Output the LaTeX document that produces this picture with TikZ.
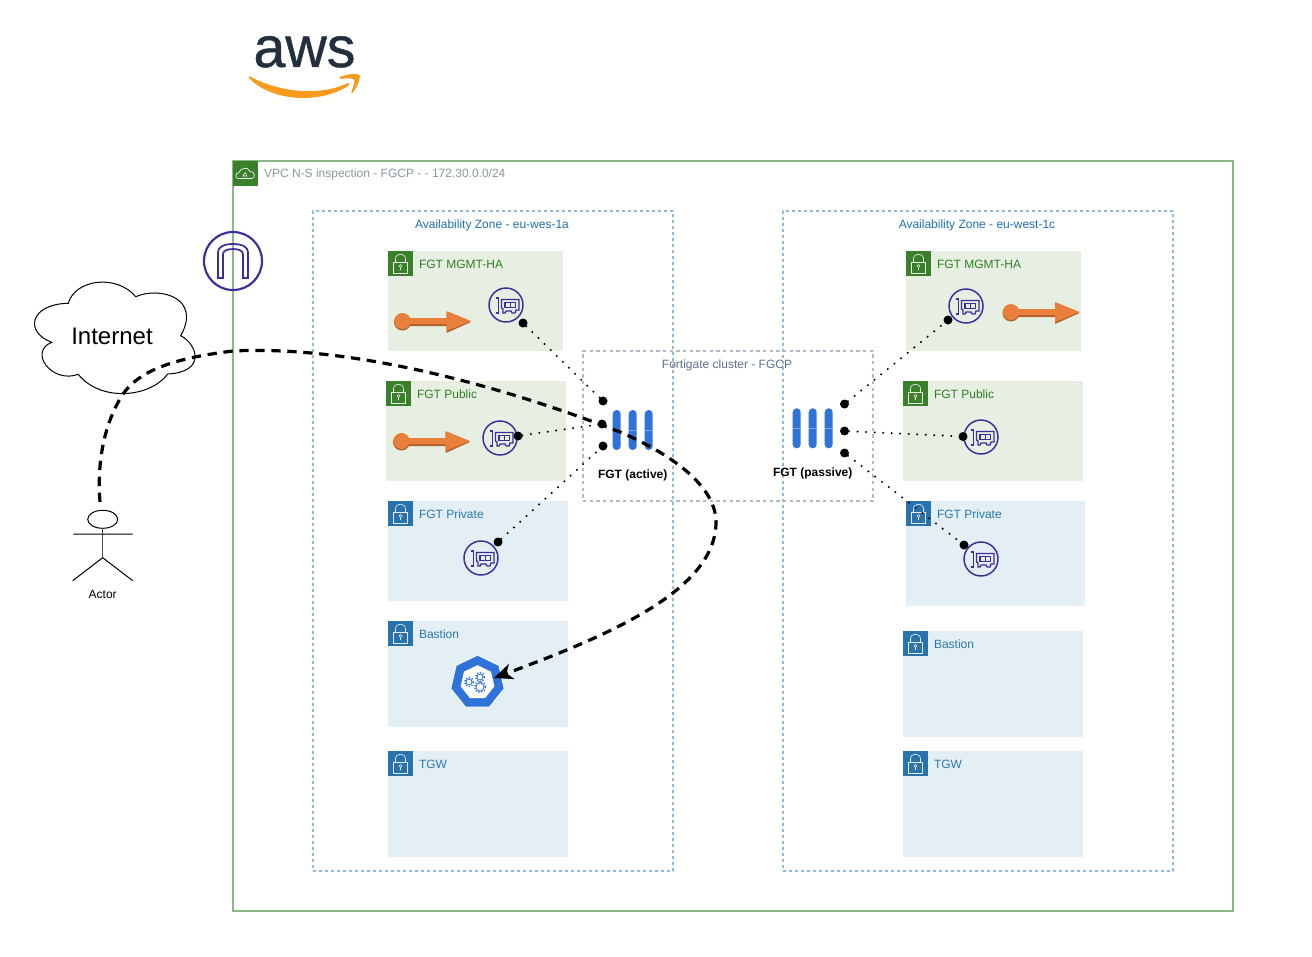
\documentclass[tikz,border=0pt]{standalone}
\usepackage{fontspec}
\setmainfont{Liberation Sans}
\newfontfamily\awsfont[FakeBold=0.8]{Liberation Sans}
\usetikzlibrary{arrows.meta,shapes.geometric}
\definecolor{vpcgreen}{HTML}{8FB58B}
\definecolor{icongreen}{HTML}{3A7F2A}
\definecolor{iconblue}{HTML}{2873AE}
\definecolor{subgreen}{HTML}{E7EFE3}
\definecolor{subblue}{HTML}{E3EEF5}
\definecolor{txtgreen}{HTML}{2E8020}
\definecolor{txtblue}{HTML}{2B78B0}
\definecolor{aztext}{HTML}{1F6FAE}
\definecolor{azline}{HTML}{94BAD9}
\definecolor{clusterline}{HTML}{B0BAC9}
\definecolor{purp}{HTML}{3C2D9B}
\definecolor{fgtblue}{HTML}{2F72D8}
\definecolor{orangeA}{HTML}{E87F3B}
\definecolor{orangeB}{HTML}{B4622B}
\definecolor{awsdark}{HTML}{232F3E}
\definecolor{awsorange}{HTML}{F79A1E}
\definecolor{vpctext}{HTML}{8A979C}
\definecolor{clustertext}{HTML}{5F728C}
\tikzset{
  x=0.75pt,y=-0.75pt,
  every node/.style={font=\fontsize{9}{11}\selectfont,inner sep=0pt,outer sep=0pt},
  subnetbase/.style={anchor=north west,draw=none},
  sublabel/.style={anchor=west},
  iconsq/.style={anchor=north west,minimum width=18.75pt,minimum height=18.75pt},
  portdot/.style={circle,fill=black,minimum size=6.75pt},
  dotlink/.style={line width=1.7pt,line cap=round,dash pattern=on 0pt off 6.4pt},
  dashlink/.style={line width=2.4pt,dash pattern=on 7pt off 5pt},
  azbox/.style={anchor=north west,draw=azline,line width=1.5pt,dash pattern=on 2.2pt off 2.3pt},
  pics/lockicon/.style={code={
    \draw[white!85!gray,line width=0.5pt,fill=none] (5.5,11.5) rectangle (19.5,22);
    \draw[white!85!gray,line width=0.5pt] (7.5,11.5) -- (7.5,8) .. controls (7.5,1.5) and (17.5,1.5) .. (17.5,8) -- (17.5,11.5);
    \draw[white!85!gray,line width=0.4pt] (12.5,15) circle (1.4) (12.5,16.4) -- (12.5,19);
  }},
  pics/eni/.style={code={
    \draw[purp,line width=1.1pt] (0,0) circle (17);
    \draw[purp,line width=1pt] (-10,-7) -- (-7.5,-7) -- (-7.5,8) -- (-10,8);
    \draw[purp,line width=1pt] (-4.5,-5.5) -- (13,-5.5) -- (13,5) -- (10,5) -- (9,8) -- (6,8) -- (5,6) -- (0,6) -- (-1,8) -- (-3,8) -- (-3,4) -- (-4.5,3) -- cycle;
    \draw[purp,line width=1pt] (-1,-2.5) rectangle (9.5,2.5) (4.2,-2.5) -- (4.2,2.5);
  }},
  pics/orangearrow/.style={code={
    \fill[orangeB] (0,1) circle (8.5);
    \fill[orangeB] (0,-2) -- (44,-2) -- (44,-9) -- (68.5,1) -- (44,12) -- (44,5) -- (0,5) -- cycle;
    \fill[orangeA] (0,0) circle (8);
    \fill[orangeA] (0,-3) -- (44,-3) -- (44,-10) -- (68.5,0) -- (44,10) -- (44,3) -- (0,3) -- cycle;
  }},
  pics/fgtbars/.style={code={
    \foreach \q in {-16,0,16}{
      \fill[fgtblue,rounded corners=2.9pt] (\q-4,-20) rectangle (\q+4,20);
      \draw[white!35!fgtblue,line width=0.25pt] (\q-4,0) -- (\q+4,0);
    }
  }},
}
\newcommand{\subnetbox}[8]{% name x y w h fill iconcolor textcolor
  \node[subnetbase,fill=#6,minimum width=#4*0.75pt,minimum height=#5*0.75pt] (#1) at (#2,#3) {};
  \node[iconsq,fill=#7] (#1icon) at (#2,#3) {};
  \pic at (#2,#3) {lockicon};
  \node[sublabel,text=#8] (#1label) at ([xshift=23.25pt,yshift=-9.7pt]#1.north west) {\SUBTXT};
}
\begin{document}
\begin{tikzpicture}
\useasboundingbox (0,0) rectangle (1312,956);
% AWS logo
\node[text=awsdark,font=\fontsize{43}{43}\awsfont,anchor=base] (awslogo) at (304.5,67) {aws};
\fill[awsorange] (249,76) .. controls (280,93) and (320,96) .. (347,83.5) .. controls (349,82) and (351,84) .. (348,86) .. controls (320,104) and (272,102) .. (249,78) -- cycle;
\fill[awsorange] (340,77) .. controls (347,74) and (356,73) .. (359.5,75) .. controls (361,78) and (356,90) .. (352,93) .. controls (351,93) and (351,92) .. (352,90) .. controls (354,85) and (355,81) .. (354,79.5) .. controls (352,78) and (346,78) .. (341,79) .. controls (339.5,79) and (339.5,78) .. (340,77) -- cycle;
% VPC
\node[anchor=north west,draw=vpcgreen,line width=1.5pt,minimum width=750pt,minimum height=562.5pt] (vpc) at (233,161) {};
\node[iconsq,fill=icongreen] (vpcicon) at (233,161) {};
\draw[white,line width=0.5pt] (238,178.5) .. controls (235,178) and (235,173) .. (239,172.5) .. controls (240,168) and (248,166) .. (250,171.5) .. controls (255,171) and (256,178) .. (252,178.5) -- cycle;
\draw[white,line width=0.4pt] (243,176) -- (247,176) -- (245,172.5) -- cycle;
\node[anchor=west,text=vpctext] (vpclabel) at (264,174.5) {VPC N-S inspection - FGCP - - 172.30.0.0/24};
% AZs
\node[azbox,minimum width=270pt,minimum height=495pt] (azl) at (313,211) {};
\node[text=aztext] (azllabel) at (492,225) {Availability Zone - eu-wes-1a};
\node[azbox,minimum width=292.5pt,minimum height=495pt] (azr) at (783,211) {};
\node[text=aztext] (azrlabel) at (977,225) {Availability Zone - eu-west-1c};
% Subnets
\def\SUBTXT{FGT MGMT-HA}\subnetbox{lmgmt}{388}{251}{175}{100}{subgreen}{icongreen}{txtgreen}
\def\SUBTXT{FGT Public}\subnetbox{lpub}{386}{381}{180}{100}{subgreen}{icongreen}{txtgreen}
\def\SUBTXT{FGT Private}\subnetbox{lpriv}{388}{501}{180}{100}{subblue}{iconblue}{txtblue}
\def\SUBTXT{Bastion}\subnetbox{lbast}{388}{621}{180}{106}{subblue}{iconblue}{txtblue}
\def\SUBTXT{TGW}\subnetbox{ltgw}{388}{751}{180}{106}{subblue}{iconblue}{txtblue}
\def\SUBTXT{FGT MGMT-HA}\subnetbox{rmgmt}{906}{251}{175}{100}{subgreen}{icongreen}{txtgreen}
\def\SUBTXT{FGT Public}\subnetbox{rpub}{903}{381}{180}{100}{subgreen}{icongreen}{txtgreen}
\def\SUBTXT{FGT Private}\subnetbox{rpriv}{906}{501}{179}{105}{subblue}{iconblue}{txtblue}
\def\SUBTXT{Bastion}\subnetbox{rbast}{903}{631}{180}{106}{subblue}{iconblue}{txtblue}
\def\SUBTXT{TGW}\subnetbox{rtgw}{903}{751}{180}{106}{subblue}{iconblue}{txtblue}
% Cluster
\node[anchor=north west,draw=clusterline,line width=1.1pt,dash pattern=on 2.6pt off 2.4pt,minimum width=217.5pt,minimum height=112.5pt] (cluster) at (583,351) {};
\node[text=clustertext] (clusterlabel) at (727,365) {Fortigate cluster - FGCP};
% Internet gateway
\node[circle,draw=purp,line width=1.6pt,minimum size=43.5pt] (igw) at (233,261) {};
\draw[purp,line width=1.3pt] (218,278) -- (218,252) .. controls (218,247) and (224,244) .. (233,244) .. controls (242,244) and (248,247) .. (248,252) -- (248,278) -- (243,278) -- (243,254) .. controls (243,251) and (239,249) .. (233,249) .. controls (227,249) and (223,251) .. (223,254) -- (223,278) -- cycle;
% Cloud
\draw[black,line width=0.75pt,fill=white] (68.3,303.3) .. controls (75,279) and (117,274) .. (135.7,296.7) .. controls (160,286) and (202,298) .. (180.7,335.7) .. controls (197,344) and (207,372) .. (167.7,374) .. controls (150,398) and (100,402) .. (78.3,374.3) .. controls (52,384) and (28,352) .. (51.7,342.3) .. controls (24,332) and (30,304) .. (68.3,303.3) -- cycle;
\node[font=\fontsize{18}{20}\selectfont] (internet) at (112,336) {Internet};
% Actor
\draw[black,line width=0.75pt] (102.7,519.3) ellipse (15 and 9);
\coordinate (actortop) at (100,502);
\draw[black!70,line width=0.9pt] (102.7,528.3) -- (102.7,557.7);
\draw[black,line width=0.75pt] (73.3,534) -- (132.7,534) (72.7,580.7) -- (102.7,557.7) -- (132.7,580.7);
\node (actorlabel) at (102.7,594) {Actor};
% Orange arrows
\pic at (402.5,321) {orangearrow};
\pic at (401.5,441) {orangearrow};
\pic at (1011,312) {orangearrow};
% ENIs
\pic at (506,305) {eni};
\pic at (500,438) {eni};
\pic at (481,558) {eni};
\pic at (966,306) {eni};
\pic at (981,437) {eni};
\pic at (981,559) {eni};
% FortiGates
\pic at (632.7,430) {fgtbars};
\pic at (812.7,428.3) {fgtbars};
\node[font=\fontsize{9}{11}\selectfont\bfseries] (fgta) at (632.7,475) {FGT (active)};
\node[font=\fontsize{9}{11}\selectfont\bfseries] (fgtp) at (812.7,473) {FGT (passive)};
% Bastion instance
\node[regular polygon,regular polygon sides=7,fill=fgtblue,draw=white,line width=0.6pt,minimum size=41pt] (bastion) at (477.5,682.5) {};
\node[regular polygon,regular polygon sides=7,fill=white,minimum size=26pt] (bastioninner) at (477.5,682.5) {};
\foreach \gx/\gy/\gr in {469/682/3,480/677/3,480/687/4}{
  \draw[fgtblue,line width=0.6pt] (\gx,\gy) circle (\gr);
  \draw[fgtblue,line width=1pt,dash pattern=on 1pt off 1.2pt] (\gx,\gy) circle (\gr+1.5);
}
% Port dots
\node[portdot] (pa1) at (523,323) {};
\node[portdot] (pa2) at (518,436) {};
\node[portdot] (pa3) at (498,542) {};
\node[portdot] (fa1) at (603,401) {};
\node[portdot] (fa2) at (602,424) {};
\node[portdot] (fa3) at (603,446) {};
\node[portdot] (fp1) at (844.5,404) {};
\node[portdot] (fp2) at (844.5,431) {};
\node[portdot] (fp3) at (844.5,453) {};
\node[portdot] (pp1) at (948,320) {};
\node[portdot] (pp2) at (963,436.5) {};
\node[portdot] (pp3) at (964,545) {};
\foreach \a/\b in {pa1/fa1,pa2/fa2,pa3/fa3,fp1/pp1,fp2/pp2,fp3/pp3}{
  \draw[dotlink] (\a) -- (\b);
}
% Dashed flow
\coordinate (flowz) at (123,394);
\coordinate (flowa) at (233,351);
\coordinate (flowb) at (620,432);
\coordinate (flowc) at (716,522);
\coordinate (bastiontip) at (494,678);
\draw[dashlink,-{Stealth[length=14pt,width=12pt,inset=4pt]}] (actortop) .. controls (97,465) and (103,425) .. (flowz) .. controls (140,370) and (175,358) .. (flowa) .. controls (350,345) and (500,385) .. (flowb) .. controls (680,458) and (716,490) .. (flowc) .. controls (716,590) and (610,635) .. (bastiontip);
\end{tikzpicture}
\end{document}
